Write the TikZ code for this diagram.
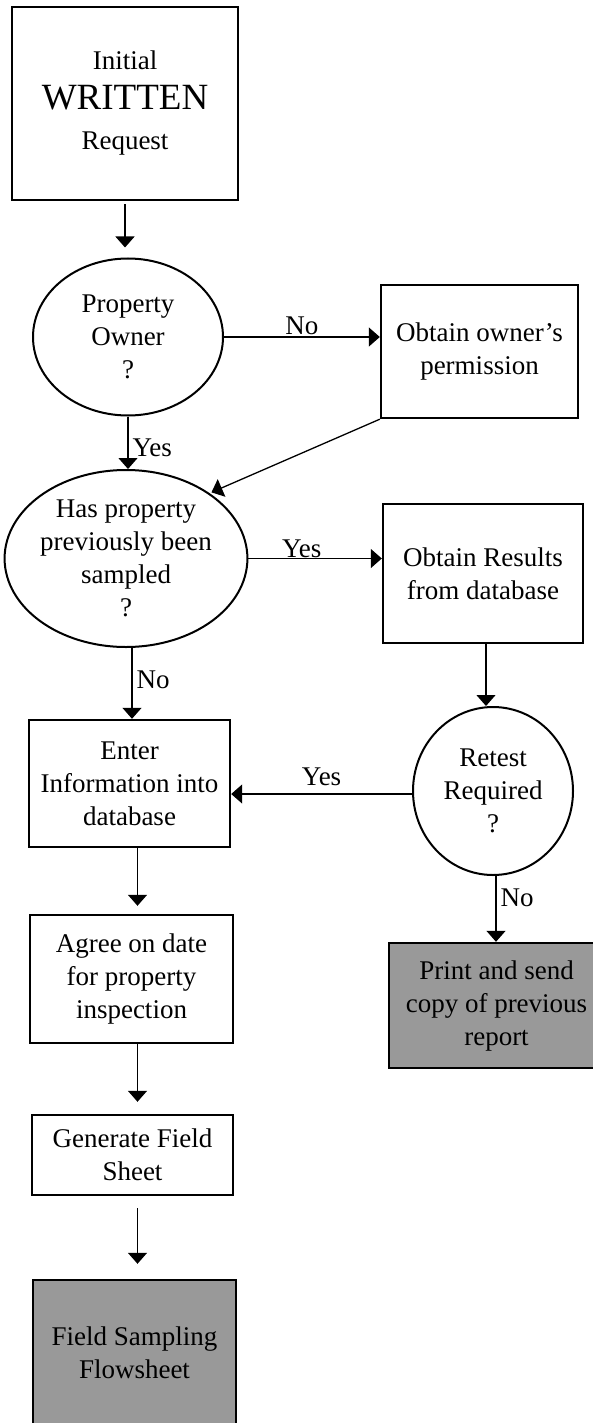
\documentclass[tikz,border=0pt]{standalone}
\usepackage{fontspec}
\setmainfont{Liberation Serif}
\usetikzlibrary{arrows.meta,shapes.geometric}
\begin{document}
\begin{tikzpicture}[x=1pt,y=-1pt,
  every node/.style={font=\fontsize{27}{33}\selectfont, align=center, inner sep=0pt},
  box/.style={draw, line width=2.4pt, rectangle},
  ell/.style={draw, line width=2pt, ellipse},
  shaded/.style={fill=black!40},
  conn/.style={line width=1.3pt, -{Triangle[width=19pt,length=11pt]}},
  lbl/.style={font=\fontsize{27}{33}\selectfont}
]
\useasboundingbox (0,0) rectangle (592,1423);

\node[box, minimum width=226, minimum height=193] (init) at (125,103.5)
  {Initial\\[7pt]{\fontsize{37}{40}\selectfont WRITTEN}\\[7pt]Request};
\node[ell, minimum width=190, minimum height=157] (po) at (128,337)
  {Property\\Owner\\?};
\node[box, minimum width=197, minimum height=133] (perm) at (479.5,351.5)
  {Obtain owner's\\permission};
\node[ell, minimum width=226, minimum height=177] (hasprop) at (126,558.5)
  {Has property\\previously been\\sampled\\?};
\node[box, minimum width=200, minimum height=139] (res) at (483,573.5)
  {Obtain Results\\from database};
\node[ell, minimum width=160, minimum height=168] (retest) at (493,791)
  {Retest\\Required\\?};
\node[box, minimum width=201, minimum height=127] (enter) at (129.5,783.5)
  {Enter\\Information into\\database};
\node[box, shaded, minimum width=215, minimum height=125] (print) at (496.5,1005.5)
  {Print and send\\copy of previous\\report};
\node[box, minimum width=203, minimum height=128] (agree) at (131.5,979)
  {Agree on date\\for property\\inspection};
\node[box, minimum width=201, minimum height=80] (gen) at (132.5,1155)
  {Generate Field\\Sheet};
\node[box, shaded, minimum width=203, minimum height=146] (field) at (134.5,1353)
  {Field Sampling\\Flowsheet};

\draw[conn, shorten <=3pt, shorten >=10pt] (init.south) -- (init.south |- po.north);
\draw[conn] (po.east) -- node[lbl, above=2pt] {No} (po.east -| perm.west);
\draw[conn] (po.south) -- node[lbl, right=4pt, pos=0.6] {Yes} (po.south |- hasprop.north);
\draw[conn, shorten >=2pt] (perm.south west) -- (hasprop.38);
\draw[conn] (hasprop.east) -- node[lbl, above=0pt, pos=0.4] {Yes} (hasprop.east -| res.west);
\draw[conn] ([xshift=6pt]hasprop.south) -- node[lbl, right=4pt, pos=0.45] {No} ([xshift=6pt]hasprop.south |- enter.north);
\draw[conn] ([xshift=3pt]res.south) -- ([xshift=3pt]res.south |- retest.north);
\draw[conn] ([yshift=-3pt]retest.west) -- node[lbl, above=8pt] {Yes} ([yshift=-3pt]retest.west -| enter.east);
\draw[conn] ([xshift=3pt]retest.south) -- node[lbl, right=4pt, pos=0.33] {No} ([xshift=3pt]retest.south |- print.north);
\draw[conn, shorten >=8pt] ([xshift=8pt]enter.south) -- ([xshift=8pt]enter.south |- agree.north);
\draw[conn, shorten >=12pt] ([xshift=6pt]agree.south) -- ([xshift=6pt]agree.south |- gen.north);
\draw[conn, shorten <=12pt, shorten >=15pt] ([xshift=5pt]gen.south) -- ([xshift=5pt]gen.south |- field.north);
\end{tikzpicture}
\end{document}
